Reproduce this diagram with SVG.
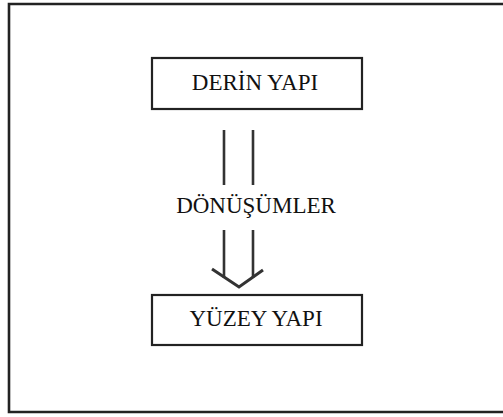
<svg xmlns="http://www.w3.org/2000/svg" width="503" height="417" viewBox="0 0 503 417">
<style>
.frame{fill:none;stroke:#222;stroke-width:2.6}
.box{fill:#fff;stroke:#222;stroke-width:2.2}
.lbl{font-family:"Liberation Serif","Times New Roman",serif;font-size:23px;fill:#111;text-anchor:middle}
.con{fill:none;stroke:#333;stroke-width:2.6;stroke-linecap:butt}
.head{fill:none;stroke:#333;stroke-width:3;stroke-linejoin:miter}
</style>
<rect width="503" height="417" fill="#fff"/>
<path class="frame" d="M505,4 H9 V412 H505"/>
<g id="derin-yapi">
<rect class="box" x="152" y="58" width="210" height="51"/>
<text class="lbl" x="255" y="90">DERİN YAPI</text>
</g>
<g id="yuzey-yapi">
<rect class="box" x="152" y="295" width="210" height="50"/>
<text class="lbl" x="256" y="326">YÜZEY YAPI</text>
</g>
<g id="connectors">
<path class="con" d="M224,130 V185 M253,130 V185"/>
<text class="lbl" x="256" y="213">DÖNÜŞÜMLER</text>
<path class="con" d="M224,230 V278 M253,230 V278"/>
<path class="head" d="M212,269 L239,287 L263,270"/>
</g>
</svg>
